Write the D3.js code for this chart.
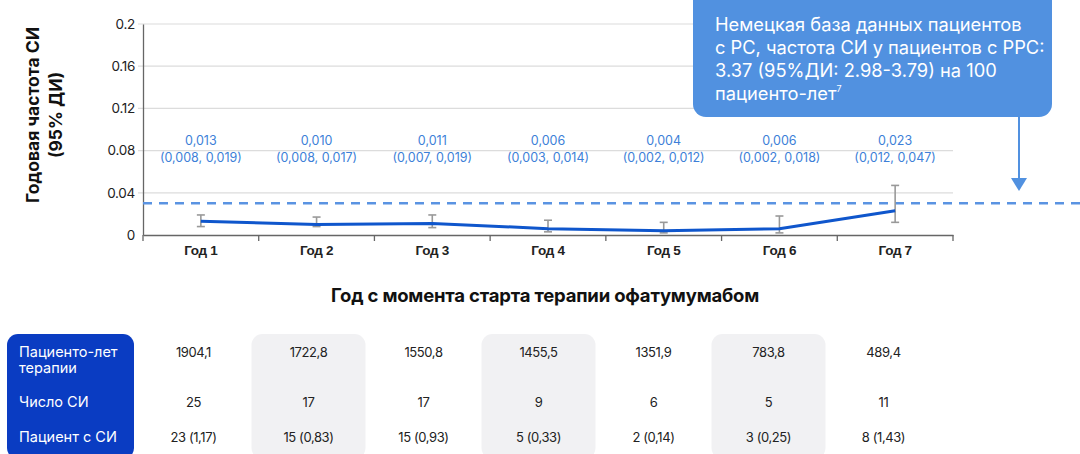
<!DOCTYPE html>
<html><head><meta charset="utf-8">
<script src="https://cdn.jsdelivr.net/npm/d3@7"></script>
<style>
body{margin:0;background:#fff;}
svg{display:block;font-family:Inter,"Noto Sans",sans-serif;}
</style></head>
<body><svg id="c" width="1080" height="454"></svg>
<script>
const categories = ["Год 1","Год 2","Год 3","Год 4","Год 5","Год 6","Год 7"];
const rate = [0.013,0.010,0.011,0.006,0.004,0.006,0.023];
const ciLow = [0.008,0.008,0.007,0.003,0.002,0.002,0.012];
const ciHigh = [0.019,0.017,0.019,0.014,0.012,0.018,0.047];
const rateLabels = ["0,013","0,010","0,011","0,006","0,004","0,006","0,023"];
const ciLabels = ["(0,008, 0,019)","(0,008, 0,017)","(0,007, 0,019)","(0,003, 0,014)","(0,002, 0,012)","(0,002, 0,018)","(0,012, 0,047)"];
const yTicks = [0,0.04,0.08,0.12,0.16,0.2];
const yTickLabels = ["0","0.04","0.08","0.12","0.16","0.2"];
const referenceRate = 0.03;
const calloutLines = ["Немецкая база данных пациентов","с РС, частота СИ у пациентов с РРС:","3.37 (95%ДИ: 2.98-3.79) на 100","пациенто-лет"];
const rowHeaders = [["Пациенто-лет","терапии"],["Число СИ"],["Пациент с СИ"]];
const patientYears = ["1904,1","1722,8","1550,8","1455,5","1351,9","783,8","489,4"];
const eventCounts = ["25","17","17","9","6","5","11"];
const patientsWithEvents = ["23 (1,17)","15 (0,83)","15 (0,93)","5 (0,33)","2 (0,14)","3 (0,25)","8 (1,43)"];

const svg = d3.select("#c");
const x = d3.scaleBand().domain(categories).range([143,953]);
const y = d3.scaleLinear().domain([0,0.2]).range([235,24]);
const cx = d => x(d)+x.bandwidth()/2;

// gridlines
svg.append("g").selectAll("line").data(yTicks.slice(1)).join("line")
  .attr("x1",138).attr("x2",953).attr("y1",d=>y(d)).attr("y2",d=>y(d))
  .attr("stroke","#dcdcdc").attr("stroke-width",1.2);

// y axis
const yAxis = d3.axisLeft(y).tickValues(yTicks).tickFormat((d,i)=>yTickLabels[i]).tickSize(0).tickPadding(8);
const gy = svg.append("g").attr("transform","translate(143,0)").call(yAxis);
gy.select(".domain").attr("stroke","#666").attr("stroke-width",1.3);
gy.selectAll("text").attr("font-size",13.5).attr("fill","#222").attr("font-family","Inter").attr("letter-spacing",-0.3);

// x axis
const gx = svg.append("g").attr("transform","translate(0,235)")
  .call(d3.axisBottom(x).tickSize(0).tickPadding(10));
gx.select(".domain").attr("stroke","#666").attr("stroke-width",1.3);
gx.selectAll("text").attr("font-size",13.5).attr("font-weight",600).attr("fill","#222").attr("letter-spacing",-0.3);
const bounds = categories.map(c=>x(c)).concat([x(categories[categories.length-1])+x.bandwidth()]);
gx.append("g").selectAll("line").data(bounds).join("line")
  .attr("x1",d=>d).attr("x2",d=>d).attr("y1",0).attr("y2",6)
  .attr("stroke","#666").attr("stroke-width",1.3);

// reference dashed line
svg.append("line").attr("x1",143).attr("x2",1080).attr("y1",y(referenceRate)).attr("y2",y(referenceRate))
  .attr("stroke","#5a93e2").attr("stroke-width",2.5).attr("stroke-dasharray","9,7");

// error bars
const eb = svg.append("g").attr("stroke","#999").attr("stroke-width",1.6);
categories.forEach((c,i)=>{
  const px = cx(c);
  eb.append("line").attr("x1",px).attr("x2",px).attr("y1",y(ciLow[i])).attr("y2",y(ciHigh[i]));
  eb.append("line").attr("x1",px-4).attr("x2",px+4).attr("y1",y(ciLow[i])).attr("y2",y(ciLow[i]));
  eb.append("line").attr("x1",px-4).attr("x2",px+4).attr("y1",y(ciHigh[i])).attr("y2",y(ciHigh[i]));
});

// line
svg.append("path").datum(rate)
  .attr("d",d3.line().x((d,i)=>cx(categories[i])).y(d=>y(d)))
  .attr("fill","none").attr("stroke","#0f56cc").attr("stroke-width",3);

// value labels
const lab = svg.append("g").attr("fill","#3d7fd8").attr("font-size",12.5).attr("text-anchor","middle");
categories.forEach((c,i)=>{
  lab.append("text").attr("x",cx(c)).attr("y",145).text(rateLabels[i]);
  lab.append("text").attr("x",cx(c)).attr("y",162).text(ciLabels[i]);
});

// y title
const yt = svg.append("text").attr("transform","translate(0,115) rotate(-90)")
  .attr("text-anchor","middle").attr("font-weight",700).attr("font-size",17.5).attr("fill","#111");
yt.append("tspan").attr("x",0).attr("y",39).text("Годовая частота СИ");
yt.append("tspan").attr("x",0).attr("y",62).text("(95% ДИ)");

// x title
svg.append("text").attr("x",545).attr("y",302).attr("text-anchor","middle")
  .attr("font-weight",700).attr("font-size",18.5).attr("fill","#111").attr("letter-spacing",-0.2)
  .text("Год с момента старта терапии офатумумабом");

// callout
svg.append("rect").attr("x",693).attr("y",-12).attr("width",359).attr("height",129).attr("rx",13)
  .attr("fill","#5191e0");
const ct = svg.append("text").attr("fill","#fff").attr("font-size",18.3);
calloutLines.forEach((l,i)=>{
  ct.append("tspan").attr("x",715).attr("y",31+i*23).text(l);
  if(i===3) ct.append("tspan").attr("font-size",9).attr("dy",-8).text("7");
});
svg.append("line").attr("x1",1019).attr("x2",1019).attr("y1",117).attr("y2",180)
  .attr("stroke","#5191e0").attr("stroke-width",2);
svg.append("path").attr("d","M1011,178 L1027,178 L1019,191 Z").attr("fill","#5191e0");

// table
const tx = d3.scaleBand().domain(categories).range([136,941]);
const tcx = d => tx(d)+tx.bandwidth()/2;
svg.append("rect").attr("x",7).attr("y",334).attr("width",127).attr("height",125).attr("rx",11).attr("fill","#0a3cc2");
[1,3,5].forEach(i=>{
  svg.append("rect").attr("x",tcx(categories[i])-57).attr("y",334).attr("width",114).attr("height",125).attr("rx",11).attr("fill","#f1f1f3");
});
const hdr = svg.append("g").attr("fill","#fff").attr("font-size",14.5);
const rowY = [357,407,442];
rowHeaders.forEach((r,i)=>{
  r.forEach((l,j)=>hdr.append("text").attr("x",19).attr("y",rowY[i]+j*16).text(l));
});
const rows = [patientYears,eventCounts,patientsWithEvents];
const tb = svg.append("g").attr("fill","#222").attr("font-size",13).attr("text-anchor","middle").attr("letter-spacing",-0.4);
rows.forEach((r,i)=>{
  r.forEach((v,j)=>tb.append("text").attr("x",tcx(categories[j])).attr("y",rowY[i]).text(v));
});
</script></body></html>
